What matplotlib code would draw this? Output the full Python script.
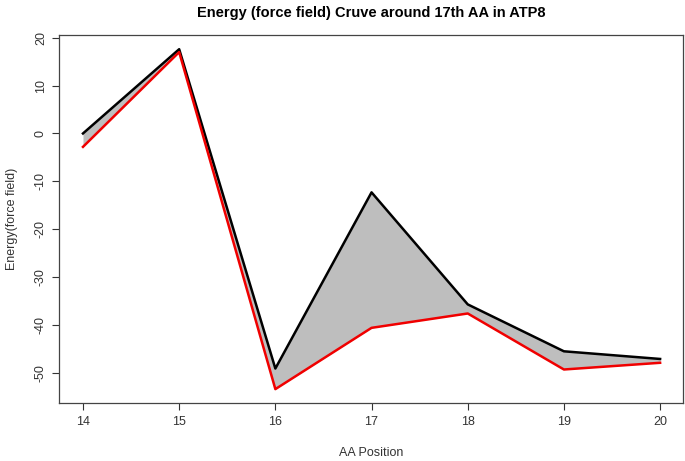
import matplotlib
matplotlib.use("Agg")
import matplotlib.pyplot as plt

positions = [14, 15, 16, 17, 18, 19, 20]
energy_wt = [0.0, 17.6, -49.1, -12.3, -35.7, -45.5, -47.1]
energy_mut = [-2.8, 17.0, -53.4, -40.6, -37.6, -49.3, -47.9]
yticks = [-50, -40, -30, -20, -10, 0, 10, 20]

plt.rcParams['font.family'] = ['Liberation Sans', 'DejaVu Sans']
plt.rcParams['axes.unicode_minus'] = False

fig = plt.figure(figsize=(6.85, 4.61), dpi=100)
ax = fig.add_axes([0.0866, 0.1258, 0.9102, 0.7982])

ax.fill_between(positions, energy_wt, energy_mut, color='#BEBEBE', linewidth=0)
ax.plot(positions, energy_wt, color='black', linewidth=1.8)
ax.plot(positions, energy_mut, color='#F00000', linewidth=1.8)

ax.set_xlim(13.754, 20.236)
ax.set_ylim(-56.3, 20.56)
ax.set_xticks(positions)
ax.set_yticks(yticks)
ax.tick_params(axis='both', direction='out', length=5, width=0.8, labelsize=9, colors='#333333', pad=4)
for lab in ax.get_yticklabels():
    lab.set_rotation(90)
    lab.set_va('center')
for s in ax.spines.values():
    s.set_color('#444444')
    s.set_linewidth(0.9)

ax.set_xlabel('AA Position', fontsize=9, color='#333333', labelpad=14)
ax.set_ylabel('Energy(force field)', fontsize=9, color='#333333', labelpad=12)
ax.set_title('Energy (force field) Cruve around 17th AA in ATP8', fontsize=10.5, fontweight='bold', pad=13)

fig.savefig('out.png', dpi=100)
